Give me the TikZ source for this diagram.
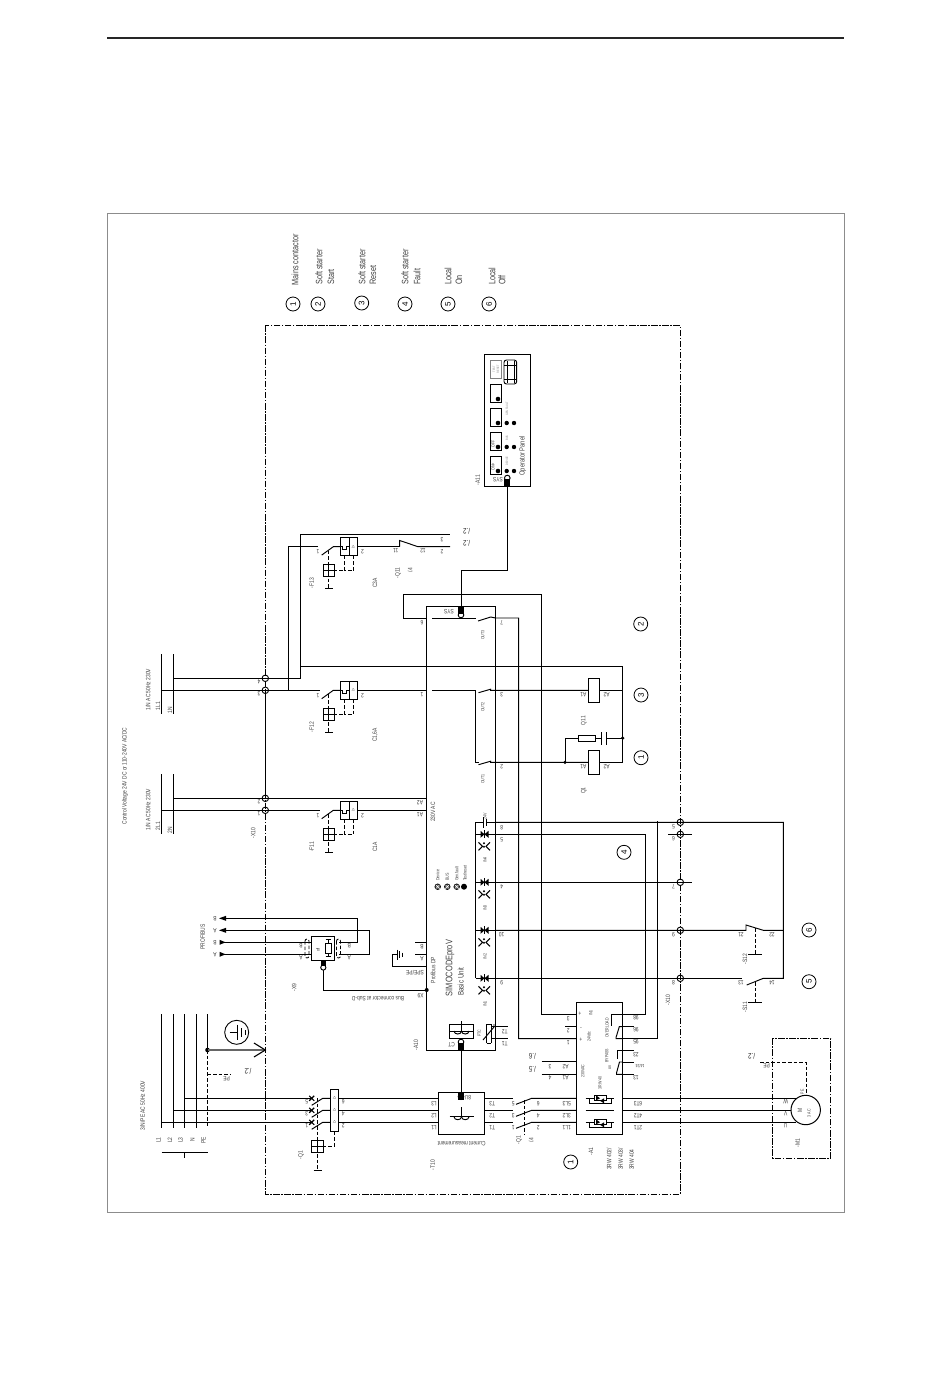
\documentclass[tikz,border=0pt]{standalone}
\usepackage{fontspec}
\newfontfamily\cond[FakeStretch=0.78]{Liberation Sans}
\definecolor{txt}{gray}{0.25}
\newcount\tcnt
\newcommand\Tx[5][lab]{\global\advance\tcnt by 1\relax\node[#1,rotate=#2] (txt\the\tcnt) at (#3,#4) {#5};}
\newcommand\TV[3]{\Tx[lab]{90}{#1}{#2}{#3}}
\newcommand\TS[3]{\Tx[labs]{90}{#1}{#2}{#3}}
\newcommand\TR[3]{\Tx[lab]{180}{#1}{#2}{#3}}
\newcommand\TQ[3]{\Tx[labq]{180}{#1}{#2}{#3}}
\newcommand\TT[3]{\Tx[labt]{90}{#1}{#2}{#3}}
\newcommand\Num[4]{\node[numc] (#1) at (#2,#3) {\rotatebox{90}{#4}};}
\newcommand\Term[3]{\node[termc] (#1) at (#2,#3) {};}
\newcommand\Conn[3]{%
  \draw[wire,fill=white] (#1,#2+#3*4.5) circle [radius=2.8];
  \fill (#1-3,#2-3.5) rectangle (#1+3,#2+3.5);}
\newcommand\Fuse[1]{%
 \begin{scope}[shift={(0,#1)}]
  \draw[wire] (321.7,8.4)--(333.3,0)--(340.3,0);
  \draw[wire] (340.3,-9) rectangle (357.7,9);
  \draw[wire] (349,-9)--(349,9);
  \draw[wire] (340.3,0)--(342.3,0)--(342.3,3)--(346.7,3)--(346.7,0)--(349,0);
  \TS{353.3}{0}{I>}
  \draw[dashw] (344.3,9)--(344.3,24)--(334.3,24);
  \draw[dashw] (353.3,9)--(353.3,24)--(344.3,24);
  \draw[wire] (323.3,18) rectangle (334.3,30);
  \draw[wire] (323.3,24)--(334.3,24) (328.8,18)--(328.8,30);
  \draw[dashw] (328.8,4)--(328.8,42);
  \draw[wire] (325,42)--(332.5,42);
  \TR{318}{5}{1}
  \TR{362.5}{5}{2}
 \end{scope}}
\newcommand\Opto[1]{%
  \draw[wire] (475.7,#1)--(495.7,#1);
  \fill (480.5,#1-3.5)--(480.5,#1+3.5)--(484.5,#1)--cycle;
  \fill (488.5,#1-3.5)--(488.5,#1+3.5)--(484.5,#1)--cycle;
  \draw[line width=1pt] (484.5,#1-4)--(484.5,#1+4);
  \draw[line width=1pt] (478.5,#1+8)--(482.5,#1+12)--(478.5,#1+16);
  \draw[line width=1pt] (490,#1+8)--(486,#1+12)--(490,#1+16);
  \fill (484,#1+9) circle [radius=1.1];
  \fill (484,#1+12.5) circle [radius=1.1];}
\newcommand\Scr[1]{%
  \draw[wire] (585.7,#1)--(614,#1);
  \draw[wire] (589,#1)--(589,#1+5)--(611,#1+5)--(611,#1);
  \draw[line width=.8pt,fill=white] (594,#1-3) rectangle (606,#1+2.5);
  \fill (596,#1-3)--(596,#1+2)--(600,#1)--cycle;
  \fill (604,#1)--(604,#1+5)--(600,#1+2.5)--cycle;}
\newcommand\CTs[2]{%
  \draw[wire] (#1-12,#2)--(#1+12,#2) (#1,#2)--(#1,#2-10);
  \draw[wire] (#1-7.5,#2) .. controls (#1-7.5,#2+4) and (#1,#2+4) .. (#1,#2);
  \draw[wire] (#1,#2) .. controls (#1,#2+4) and (#1+7.5,#2+4) .. (#1+7.5,#2);}
\tikzset{
 x=1pt,y=-1pt,
 wire/.style={line width=0.95pt,line cap=butt},
 dashw/.style={line width=0.9pt,dash pattern=on 3.6pt off 2pt},
 ddot/.style={line width=0.9pt,dash pattern=on 6.5pt off 1.6pt on 1.4pt off 1.6pt},
 lab/.style={inner sep=0pt,text=txt,font=\cond\fontsize{6.3}{7}\selectfont},
 labs/.style={inner sep=0pt,text=txt,font=\cond\fontsize{4.6}{5}\selectfont},
 labq/.style={inner sep=0pt,text=black!80,font=\cond\fontsize{8}{9}\selectfont},
 labb/.style={inner sep=0pt,text=black!75,font=\cond\fontsize{9.3}{10}\selectfont},
 labt/.style={inner sep=0pt,text=black!45,font=\cond\fontsize{3.2}{3.5}\selectfont},
 numc/.style={circle,draw,line width=0.8pt,minimum size=14pt,inner sep=0pt,font=\fontspec{Liberation Sans}\fontsize{8}{9}\selectfont},
 termc/.style={circle,draw,line width=0.9pt,minimum size=6.5pt,inner sep=0pt},
 dotj/.style={circle,fill,inner sep=0pt,minimum size=3.6pt},
}
\begin{document}
\begin{tikzpicture}
\useasboundingbox (0,0) rectangle (950,1379);
\fill[white] (0,0) rectangle (950,1379);
% page furniture
\draw[line width=1.6pt,black!85] (107,38)--(844,38);
\draw[line width=0.9pt,black!45] (107,213) rectangle (844,1212);
\draw[ddot] (265.3,325.3) rectangle (680.3,1194.3);
\draw[wire] (265.3,690.3)--(265.3,798.3);
% header
\Num{n1}{293}{304}{1}\Num{n2}{318}{304}{2}\Num{n3}{361.7}{303}{3}\Num{n4}{405}{304}{4}\Num{n5}{448}{304}{5}\Num{n6}{489}{304}{6}
\Tx[labb]{90}{295}{260}{Mains contactor}
\node[labb,rotate=90,anchor=west] (h1) at (319,285) {Soft starter};
\node[labb,rotate=90,anchor=west] (h2) at (331,285) {Start};
\node[labb,rotate=90,anchor=west] (h3) at (362,285) {Soft starter};
\node[labb,rotate=90,anchor=west] (h4) at (373,285) {Reset};
\node[labb,rotate=90,anchor=west] (h5) at (405,285) {Soft starter};
\node[labb,rotate=90,anchor=west] (h6) at (417,285) {Fault};
\node[labb,rotate=90,anchor=west] (h7) at (448,285) {Local};
\node[labb,rotate=90,anchor=west] (h8) at (459,285) {On};
\node[labb,rotate=90,anchor=west] (h9) at (492,285) {Local};
\node[labb,rotate=90,anchor=west] (h10) at (502,285) {Off};
% operator panel
\draw[wire] (484.5,354) rectangle (530.7,486);
\draw[line width=.7pt,black!50] (490,360) rectangle (501.7,378);
\foreach \a in {384,408,432,456}{\draw[wire] (490,\a) rectangle (501.7,\a+18);\fill (498,\a+15) circle [radius=2.3];}
\foreach \a in {423,447,471}{\fill (506.7,\a) circle [radius=2.2];\fill (514,\a) circle [radius=2.2];}
\draw[wire,rounded corners=2.5pt] (504,360) rectangle (516.7,384);
\draw[line width=.7pt] (507,361)--(507,383) (514,361)--(514,383) (504,365)--(516.7,365) (504,379)--(516.7,379);
\TT{494}{369}{TEST}\TT{498}{369}{RESET}
\TT{507}{409}{GEN FAULT}\TT{507}{438}{BUS}\TT{507}{461}{DEVICE}
\TS{493}{444}{OFF}\TS{493}{467}{ON>}
\Tx[lab]{90}{522.7}{456}{\fontsize{7.4}{8}\selectfont Operator Panel}
\TR{498}{480}{SYS}
\TV{477.7}{480}{-A11}
\Conn{507.3}{482.5}{-1}
% SIMOCODE
\node[draw,line width=.95pt,minimum width=69.4pt,minimum height=443.7pt,inner sep=0pt] (bu) at (461,828.2) {};
\Conn{461}{610.5}{1}
\TR{449}{612}{SYS}
\draw[wire] (507.3,486)--(507.3,570)--(461,570)--(461,607);
\draw[wire] (403.3,618)--(403.3,594.3)--(541.5,594.3);
\draw[wire] (403.3,618)--(bu.west |- 0,618);
\draw[wire] (432,618)--(476,618);
\draw[wire] (478,621)--(490.7,617)--(495.7,618)--(518.7,618)--(518.7,1038.7)--(576.7,1038.7);
\draw[wire] (541.5,594.3)--(541.5,1014.3)--(576.7,1014.3);
\draw[wire] (565,1026.7)--(576.7,1026.7);
% control wiring
\Term{x4}{265.3}{678.3}\Term{x3}{265.3}{690.3}\Term{x2}{265.3}{798.3}\Term{x1}{265.3}{810.3}
\draw[wire] (173.3,678.3)--(300,678.3)--(300,534.3)--(450,534.3);
\draw[wire] (300,666)--(622.7,666)--(622.7,762.3);
\draw[wire] (161.7,690.3)--(319.5,690.3);
\draw[wire] (288.3,690.3)--(288.3,546.7)--(318,546.7);
\draw[wire] (357.7,690.3)--(426.3,690.3);
\draw[wire] (432,690.3)--(475.7,690.3);
\draw[wire] (478.5,692.7)--(490.7,689.2)--(490.7,690.3)--(588.3,690.3);
\draw[wire] (599.7,690.3)--(622.7,690.3);
\draw[wire] (161.7,810.3)--(319.5,810.3);
\draw[wire] (173.3,798.3)--(426.3,798.3);
\draw[wire] (357.7,810.3)--(426.3,810.3);
% out1/out2
\draw[wire] (475.7,690.3)--(475.7,762.3)--(478.5,762.3);
\draw[wire] (478.5,764.7)--(490.7,761.2)--(490.7,762.3)--(588.3,762.3);
\draw[wire] (599.7,762.3)--(622.7,762.3);
% coils and RC
\draw[wire,fill=white] (588.3,678.3) rectangle (599.7,702.3);
\draw[wire,fill=white] (588.3,750.3) rectangle (599.7,774.3);
\node[dotj] (j1) at (565,762.3) {};
\node[dotj] (j2) at (622.7,738) {};
\draw[wire] (j1.center)--(565,738)--(578.3,738);
\draw[wire] (578.3,735.3) rectangle (595.7,741.3);
\draw[wire] (595.7,738)--(601.7,738) (606.7,738)--(j2.center);
\draw[line width=1pt] (601.7,732)--(601.7,744.7) (606.7,732)--(606.7,744.7);
\TR{583.3}{695}{A1}\TR{606.7}{695}{A2}\TR{583.3}{767}{A1}\TR{606.7}{767}{A2}
\TV{583.7}{720.7}{Q11}\TV{583.7}{790.7}{Q1}
\Num{n2b}{640.7}{624}{2}\Num{n3b}{641}{695}{3}\Num{n1b}{641}{757.7}{1}
% fuses
\Fuse{690.3}\Fuse{810.3}\Fuse{546.7}
\TV{311.7}{727.3}{-F12}\TV{311.7}{847}{-F11}\TV{311.7}{583}{-F13}
\TV{375}{735}{C1,6A}\TV{375}{847}{C1A}\TV{375}{583}{C3A}
% F13 and Q11
\draw[wire] (357.7,546.7)--(399.7,546.7);
\draw[wire] (399.7,546.7)--(399.7,540.5)--(418,546.7)--(450,546.7);
\TR{395.7}{550.3}{11}\TR{423}{550.3}{12}
\TR{442}{540}{3}\TR{442}{551.7}{2}
\TQ{466.7}{531.3}{/.2}\TQ{466.7}{543.3}{/.2}
\TV{398}{573}{-Q11}\TV{410}{570}{/.4}
% bars left
\draw[wire] (161.7,654.3)--(161.7,714) (173.3,654.3)--(173.3,714);
\draw[wire] (161.7,774)--(161.7,834) (173.3,774)--(173.3,834);
\TV{148}{689.5}{1/N AC 50Hz 230V}\TV{148}{809.5}{1/N AC 50Hz 230V}
\TV{158}{706}{1L1}\TV{170}{710}{1N}\TV{158}{826}{2L1}\TV{170}{830}{2N}
\TV{125}{776}{Control Voltage 24V DC or 110-240V AC/DC}
\TR{259}{681.7}{4}\TR{259}{693.7}{3}\TR{259}{801.7}{2}\TR{259}{813.7}{1}
\TV{253.3}{833}{-X10}
% unit labels
\TR{422}{623}{6}\TR{422}{695}{1}\TR{420}{803}{A2}\TR{420}{815}{A1}
\TV{433}{812}{230V AC}
\TR{501.7}{623}{7}\TR{501.7}{695}{3}\TR{501.7}{767}{2}\TR{501.7}{827.7}{8}\TR{501.7}{839.7}{5}\TR{501.7}{887}{4}\TR{501.7}{935}{10}\TR{501.7}{983}{9}
\TS{482.7}{635}{OUT3}\TS{482.7}{707}{OUT2}\TS{482.7}{779}{OUT1}
\TS{485}{816}{24V}\TS{485}{860}{IN4}\TS{485}{908}{IN3}\TS{485}{956.7}{IN2}\TS{485}{1004}{IN1}
\foreach \a in {437.7,447.3,456.7}{\draw[line width=.7pt,fill=black!60] (\a,886.7) circle [radius=2.8];\draw[white,line width=.4pt] (\a-2,884.7)--(\a+2,888.7) (\a-2,888.7)--(\a+2,884.7);}
\fill (464,886.7) circle [radius=3];
\node[labs,rotate=90,anchor=west] (l1) at (437.7,881) {Device};
\node[labs,rotate=90,anchor=west] (l2) at (447.3,881) {BUS};
\node[labs,rotate=90,anchor=west] (l3) at (456.7,881) {Gen.fault};
\node[labs,rotate=90,anchor=west] (l4) at (465,881) {Test/reset};
\TV{433}{970}{Profibus DP}
\Tx[labb]{90}{450}{968}{\fontsize{9.5}{10}\selectfont SIMOCODEproV}
\Tx[labb]{90}{460.7}{981.7}{\fontsize{8}{9}\selectfont Basic Unit}
% inputs
\draw[wire] (475.7,822.3)--(475.7,978.3);
\draw[wire] (475.7,822.3)--(483.3,822.3) (486.7,822.3)--(495.7,822.3);
\draw[line width=1pt] (483.3,817)--(483.3,827.5) (486.7,819)--(486.7,825.5);
\Opto{834.3}\Opto{882.3}\Opto{930.3}\Opto{978.3}
% terminals right
\Term{x5}{680.3}{822.3}\Term{x6}{680.3}{834.3}\Term{x7}{680.3}{882.3}\Term{x9}{680.3}{930.3}\Term{x8}{680.3}{978.3}
\draw[wire] (495.7,822.3)--(783.3,822.3)--(783.3,978.3)--(763.3,978.3)--(746.7,985);
\draw[wire] (495.7,834.3)--(645.7,834.3)--(645.7,1014.3)--(622.7,1014.3);
\draw[wire] (668,834.3)--(691.7,834.3);
\draw[wire] (495.7,882.3)--(691.7,882.3);
\draw[wire] (495.7,930.3)--(746,930.3)--(746,925)--(763.3,930.3)--(783.3,930.3);
\draw[wire] (495.7,978.3)--(742,978.3);
\draw[wire] (657.3,821)--(657.3,1038.7)--(622.7,1038.7);
\draw[dashw] (755,928)--(755,954.3);\draw[wire] (748,954.3)--(761.7,954.3);
\draw[dashw] (755,982)--(755,1002.3);\draw[wire] (748,1002.3)--(761.7,1002.3);
\TR{741}{935}{21}\TR{772}{935}{22}\TR{741}{983}{13}\TR{772}{983}{14}
\TV{745}{959}{-S12}\TV{745}{1007}{-S11}
\TR{673.5}{827}{5}\TR{673.5}{838.5}{6}\TR{673.5}{887}{7}\TR{673.5}{935}{9}\TR{673.5}{983}{8}
\TV{668}{1000}{-X10}
\Num{n4b}{624}{852.3}{4}\Num{n6b}{809}{930}{6}\Num{n5b}{809}{981.7}{5}
% CT and PTC
\draw[wire] (449.3,1024.3) rectangle (473.7,1038.3);
\CTs{461.5}{1031}
\Conn{461}{1046.5}{-1}
\TR{451.7}{1045}{CT}
\draw[wire] (486.7,1024)--(486.7,1043) (491,1024)--(491,1043);
\draw[wire] (486.7,1024)--(491,1024) (486.7,1043)--(491,1043);
\draw[wire] (483,1040)--(494,1027)--(494,1024);
\draw[wire] (491,1026.7)--(508,1026.7) (491,1038.3)--(508,1038.3);
\TS{479.3}{1033}{PTC}
\TR{504.7}{1031.7}{T2}\TR{504.7}{1044}{T1}
% T10
\node[draw,line width=.95pt,minimum width=46.4pt,minimum height=41.7pt,inner sep=0pt] (t10) at (461.5,1113.2) {};
\draw[wire] (461,1050)--(461,1092);
\Conn{461}{1096.7}{0}
\CTs{461.5}{1116.7}
\TR{468}{1098}{8U}
\TR{434}{1103.3}{L3}\TR{434}{1115.3}{L2}\TR{434}{1127.3}{L1}
\TR{492.3}{1103.3}{T3}\TR{492.3}{1115.3}{T2}\TR{492.3}{1127.3}{T1}
\TR{461.7}{1143.3}{Current measurement}
\TV{432.7}{1165}{-T10}
% main lines
\draw[wire] (161.7,1122.3)--(311,1122.3) (173.3,1110.3)--(311,1110.3) (184.3,1098.3)--(311,1098.3);
\foreach \a in {1098.3,1110.3,1122.3}{
 \draw[line width=1.2pt] (309.2,\a-2.5)--(314.2,\a+2.5) (309.2,\a+2.5)--(314.2,\a-2.5);
 \draw[wire] (311.7,\a+7)--(322.7,\a)--(330.3,\a);
 \draw[wire] (338.7,\a)--(438.3,\a);
 \draw[wire] (484.7,\a)--(512.7,\a);
 \draw[wire] (516,\a+6)--(531.7,\a)--(576.7,\a);
 \draw[wire] (622.7,\a)--(796,\a);
}
\draw[wire] (161.7,1014)--(161.7,1128) (173.3,1014)--(173.3,1128) (184.3,1014)--(184.3,1128) (196.3,1014)--(196.3,1128);
\draw[wire] (207.3,1014)--(207.3,1050);
\draw[dashw] (207.3,1050)--(207.3,1128);
\draw[wire] (161.7,1152.3)--(207.7,1152.3) (184.3,1152.3)--(184.3,1158.3);
\TV{158.5}{1140}{L1}\TV{170}{1140}{L2}\TV{180.5}{1140}{L3}\TV{192.5}{1140}{N}\TV{203.5}{1140}{PE}
\TV{142.7}{1105.5}{3/N/PE AC 50Hz 400V}
\node[dotj,minimum size=4.6pt] (pe) at (207.5,1050) {};
\draw[line width=1.2pt,black!60] (pe.center)--(265.3,1050);
\draw[line width=1.1pt] (254,1043)--(265.3,1050)--(254,1057);
\node[circle,draw,line width=.9pt,minimum size=24pt,inner sep=0pt] (gnd) at (236.7,1032.3) {};
\draw[wire] (229.5,1032.3)--(237.3,1032.3) (237.3,1024.5)--(237.3,1040);
\draw[wire] (241.7,1028)--(241.7,1036.5) (245,1030)--(245,1034.5);
\draw[dashw] (207.5,1074)--(231,1074);
\TQ{248}{1071.7}{/.2}\TR{226.7}{1079}{PE}
% Q1 left
\draw[wire,fill=white] (330.3,1089.3) rectangle (338.7,1131.7);
\foreach \a in {1098.3,1110.3,1122.3}{\TS{334.5}{\a}{I>}}
\draw[dashw] (317.3,1098)--(317.3,1170);
\draw[wire] (313.7,1170)--(321.7,1170);
\draw[wire,fill=white] (311.3,1140) rectangle (323.7,1152.7);
\draw[wire] (311.3,1146.3)--(323.7,1146.3) (317.5,1140)--(317.5,1152.7);
\draw[dashw] (334,1131.7)--(334,1146.3)--(323.7,1146.3);
\TR{306.7}{1101.7}{5}\TR{306.7}{1113.7}{3}\TR{306.7}{1125.7}{1}
\TR{343.3}{1102}{6}\TR{343.3}{1114}{4}\TR{343.3}{1126}{2}
\TV{301}{1155}{-Q1}
% Q1 right
\draw[dashw] (524.3,1100)--(524.3,1135);
\TR{513.3}{1103.3}{5}\TR{513.3}{1115.3}{3}\TR{513.3}{1127.3}{1}
\TR{538.3}{1103.3}{6}\TR{538.3}{1115.3}{4}\TR{538.3}{1127.3}{2}
\TV{519}{1140}{-Q1}\TV{531}{1140}{/.4}
% 3RW
\node[draw,line width=.95pt,fill=none,minimum width=46pt,minimum height=131.7pt,inner sep=0pt] (rw) at (599.7,1068.2) {};
\TR{568.3}{1018.3}{3}\TR{568.3}{1030.3}{2}\TR{568.3}{1042.3}{1}
\TR{580}{1013}{+}\TR{581}{1027}{-}\TR{581}{1039.3}{+}
\TS{590.7}{1013}{IN1}\TS{589}{1036.7}{24Vdc}\TS{582.7}{1071}{230VAC}
\TS{607}{1028}{OVERLOAD}\TS{606.7}{1055.7}{BYPASS}\TS{610}{1067}{on}\TS{600}{1083}{3RW 40}
\draw[wire] (622.7,1014.3)--(611.7,1014.3)--(611.7,1026);
\draw[wire] (622.7,1026.7)--(619.3,1026.7)--(616,1037.5)--(616,1038.7)--(622.7,1038.7);
\draw[wire] (622.7,1026.7)--(634,1026.7) (622.7,1050.3)--(634,1050.3) (622.7,1062)--(634,1062) (622.7,1074.3)--(634,1074.3);
\draw[wire] (622.7,1050.3)--(617.5,1050.3)--(617.5,1059);
\draw[wire] (622.7,1062)--(619.5,1062)--(616.5,1073)--(616.5,1074.3)--(622.7,1074.3);
\TR{636}{1018}{98}\TR{636}{1030}{96}\TR{636}{1042}{95}\TR{636}{1054.5}{23}\Tx[labs]{180}{640}{1066}{14/24}\TR{636}{1078}{13}
\draw[wire] (541.7,1061.7)--(576.7,1061.7) (541.7,1074.3)--(576.7,1074.3);
\TR{565.7}{1066.7}{A2}\TR{565.7}{1078}{A1}\TR{550}{1066.7}{3}\TR{550}{1078}{4}
\TQ{532.3}{1056.7}{/.6}\TQ{532.3}{1069.3}{/.5}
\TR{566.7}{1103.3}{5L3}\TR{566.7}{1115.3}{3L2}\TR{566.7}{1127.3}{1L1}
\TR{638}{1103.3}{6T3}\TR{638}{1115.3}{4T2}\TR{638}{1127.3}{2T1}
\Scr{1098.3}\Scr{1122.3}
\draw[wire] (585.7,1110.3)--(614,1110.3);
\Num{n1c}{570.7}{1162}{1}
\TV{591}{1151.7}{-A1}
\node[lab,rotate=90,anchor=west] (m1) at (609,1170) {3RW 402/};
\node[lab,rotate=90,anchor=west] (m2) at (620.7,1170) {3RW 403/};
\node[lab,rotate=90,anchor=west] (m3) at (631.7,1170) {3RW 404};
% motor
\draw[ddot] (772.7,1038.3) rectangle (830.7,1158.3);
\node[circle,draw,line width=1pt,fill=white,minimum size=29.4pt,inner sep=0pt] (mot) at (805.7,1110) {};
\draw[dashw] (760,1062.3)--(806,1062.3)--(806,1095);
\TV{800}{1110}{M}\TS{809}{1113}{3 AC}\TS{802.3}{1091.7}{PE}
\TR{785.7}{1102}{W}\TR{785.7}{1114}{V}\TR{785.7}{1126}{U}
\TR{766.7}{1066}{PE}\TQ{751.7}{1056.7}{/.2}
\TV{797.7}{1143}{-M1}
% PROFIBUS
\node[draw,line width=.95pt,minimum width=22.6pt,minimum height=24pt,inner sep=0pt] (dp) at (323,948.3) {};
\draw[wire] (222,918.3)--(357.3,918.3)--(357.3,942.3)--(338.5,942.3);
\draw[wire] (222,930.3)--(369.7,930.3)--(369.7,954.3)--(338.5,954.3);
\draw[wire] (222,942.3)--(311.7,942.3);
\draw[wire] (222,954.3)--(311.7,954.3);
\foreach \a in {918.3,930.3}{\fill (219,\a)--(226,\a-2.5)--(226,\a+2.5)--cycle;}
\foreach \a in {942.3,954.3}{\fill (225.5,\a)--(219.5,\a-2.5)--(219.5,\a+2.5)--cycle;}
\TR{215}{918.3}{B}\TR{215}{930.3}{A}\TR{215}{942.3}{B}\TR{215}{954.3}{A}
\TV{202.7}{937}{PROFIBUS}
\draw[dashw,line width=.8pt,rounded corners=2pt] (305,939) rectangle (309,958);
\draw[dashw,line width=.8pt,rounded corners=2pt] (336.5,939) rectangle (340.5,958);
\draw[wire] (325,943)rectangle(331.7,953);
\draw[wire] (328.3,939.5)--(328.3,943) (328.3,953)--(328.3,956.5) (325.5,939.5)--(331,939.5) (325.5,956.5)--(331,956.5);
\TS{318}{950}{off}
\TR{301}{946}{B}\TR{301}{958}{A}\TR{349.3}{946}{B}\TR{349.3}{958}{A}
\draw[wire] (323.3,970)--(323.3,990)--(426.7,990);
\node[dotj,minimum size=4pt] (dp2) at (426.7,990) {};
\draw[wire,fill=white] (323.3,967.5) circle [radius=2.6];
\fill (320.8,960.3) rectangle (325.8,966);
\TV{294.3}{987.3}{-X9}
\TR{378}{998.3}{Bus connector at Sub-D}
\TR{420.7}{995.7}{X9}
\TV{416}{1045}{-A10}
\draw[wire] (415,942.3)--(426.7,942.3) (415,954.3)--(426.7,954.3);
\TR{422}{947}{B}\TR{422}{959}{A}
\draw[wire] (426.7,966.3)--(392.3,966.3)--(392.3,954.3)--(397.3,954.3);
\draw[line width=1pt] (397.3,949.5)--(397.3,959.5) (399.7,951)--(399.7,958) (402,952.5)--(402,956.5);
\TR{415}{972.3}{SPE/PE}
\end{tikzpicture}
\end{document}
